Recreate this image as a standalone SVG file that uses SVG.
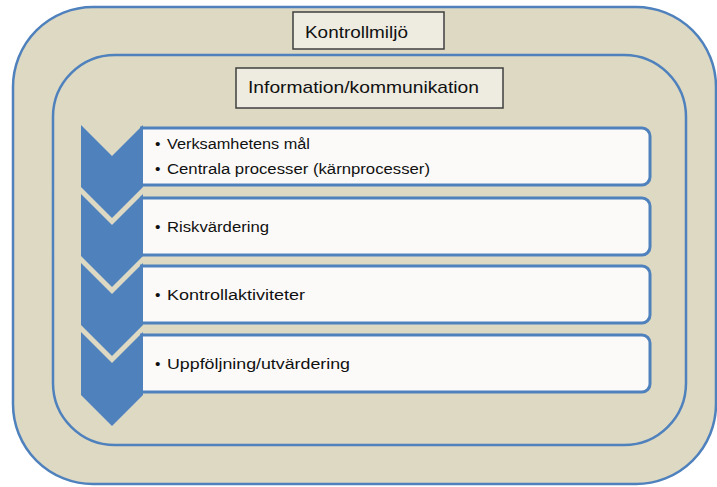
<svg xmlns="http://www.w3.org/2000/svg" width="717" height="487" viewBox="0 0 717 487">
<style>
.ring{fill:#DDD9C3;stroke:#4F81BD;stroke-width:2.5}
.lbl{fill:#EEECE1;stroke:#3F3F3F;stroke-width:1.5}
.box{fill:#FBFAF8;stroke:#4F81BD;stroke-width:3}
.chev{fill:#4F81BD}
text{font-family:"Liberation Sans",Arial,sans-serif;fill:#111}
.t1{font-size:17px}
.t2{font-size:15.5px}
</style>
<defs>
<path id="bx" d="M140,0 H642 A8,8 0 0 1 650,8 V49 A8,8 0 0 1 642,57 H140"/>
</defs>
<rect width="717" height="487" fill="#FFFFFF"/>
<g id="kontrollmiljo">
<rect class="ring" x="13" y="7" width="703" height="477" rx="80" ry="80"/>
<rect class="lbl" x="293" y="12" width="151" height="37"/>
<text class="t1" x="305" y="38" textLength="103" lengthAdjust="spacingAndGlyphs">Kontrollmiljö</text>
</g>
<g id="information">
<rect class="ring" x="53" y="55" width="633" height="390" rx="62" ry="62"/>
<rect class="lbl" x="236" y="68" width="267" height="40"/>
<text class="t1" x="248" y="93" textLength="231" lengthAdjust="spacingAndGlyphs">Information/kommunikation</text>
</g>
<g id="step1">
<use href="#bx" class="box" y="128"/>
<polygon class="chev" points="81,125 112,156 143,125 143,187 112,218 81,187"/>
<text class="t2" x="155" y="149">•</text>
<text class="t2" x="167" y="149" textLength="143" lengthAdjust="spacingAndGlyphs">Verksamhetens mål</text>
<text class="t2" x="155" y="174">•</text>
<text class="t2" x="167" y="174" textLength="263" lengthAdjust="spacingAndGlyphs">Centrala processer (kärnprocesser)</text>
</g>
<g id="step2">
<use href="#bx" class="box" y="198"/>
<polygon class="chev" points="81,194 112,225 143,194 143,256 112,287 81,256"/>
<text class="t2" x="155" y="232">•</text>
<text class="t2" x="167" y="232" textLength="102" lengthAdjust="spacingAndGlyphs">Riskvärdering</text>
</g>
<g id="step3">
<use href="#bx" class="box" y="266"/>
<polygon class="chev" points="81,263 112,294 143,263 143,325 112,356 81,325"/>
<text class="t2" x="155" y="300">•</text>
<text class="t2" x="167" y="300" textLength="138" lengthAdjust="spacingAndGlyphs">Kontrollaktiviteter</text>
</g>
<g id="step4">
<use href="#bx" class="box" y="335"/>
<polygon class="chev" points="81,332 112,363 143,332 143,395 112,426 81,395"/>
<text class="t2" x="155" y="369">•</text>
<text class="t2" x="167" y="369" textLength="183" lengthAdjust="spacingAndGlyphs">Uppföljning/utvärdering</text>
</g>
<g id="connectors"></g>
</svg>
